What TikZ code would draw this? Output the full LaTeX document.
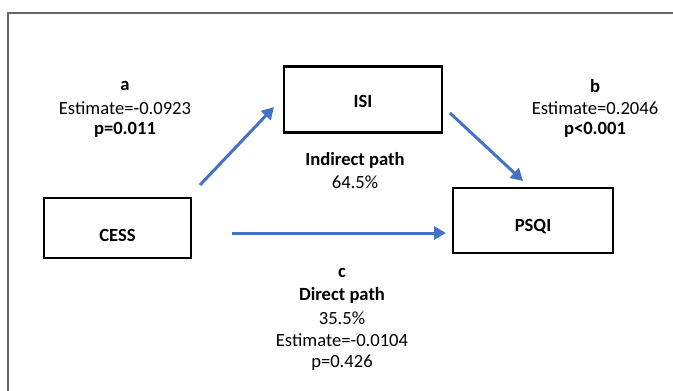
\documentclass[tikz,border=0pt]{standalone}
\usepackage{fontspec}
\setmainfont{Carlito}
\usetikzlibrary{arrows.meta}
\definecolor{arrowblue}{HTML}{4472C4}
\begin{document}
\begin{tikzpicture}[x=1pt,y=-1pt,
  boxnode/.style={draw=black,line width=2.4pt,inner sep=0pt},
  lbl/.style={font=\fontsize{18.6}{21}\selectfont,inner sep=0pt,anchor=center},
  blbl/.style={font=\fontsize{18.6}{21}\selectfont\bfseries,inner sep=0pt,anchor=center},
  arr/.style={draw=arrowblue,line width=3pt,-{Triangle[length=12pt,width=13pt]}}]
\useasboundingbox (0,0) rectangle (673,391);
\fill[white] (0,0) rectangle (673,391);
\draw[gray!80!black,line width=1.3pt] (8,391) -- (8,13) -- (673,13);
% boxes
\node[boxnode,minimum width=158pt,minimum height=66pt] (isi) at (363,99.5) {};
\node[blbl] (isit) at (363,101) {ISI};
\node[boxnode,minimum width=147pt,minimum height=60pt] (cess) at (117.5,228) {};
\node[blbl] (cesst) at (117.5,235) {CESS};
\node[boxnode,minimum width=160pt,minimum height=65pt] (psqi) at (533,220.5) {};
\node[blbl] (psqit) at (533,227) {PSQI};
% arrow endpoints
\coordinate (a1) at (200,185);
\coordinate (a2) at (274,107);
\coordinate (b1) at (450,113);
\coordinate (b2) at (523,181);
\coordinate (c1) at (232,233);
\coordinate (c2) at (446,233);
\draw[arr] (a1) -- (a2);
\draw[arr] (b1) -- (b2);
\draw[arr] (c1) -- (c2);
% labels a
\node[blbl] (la) at (125,86) {a};
\node[lbl] (lae) at (125,108) {Estimate=-0.0923};
\node[blbl] (lap) at (125,130) {p=0.011};
% labels b
\node[blbl] (lb) at (595,86) {b};
\node[lbl] (lbe) at (595,108) {Estimate=0.2046};
\node[blbl] (lbp) at (595,130) {p<0.001};
% indirect
\node[blbl] (ind) at (355,160) {Indirect path};
\node[lbl] (indp) at (355,182) {64.5\%};
% c
\node[blbl] (lc) at (342,273) {c};
\node[blbl] (dir) at (342,295) {Direct path};
\node[lbl] (dirp) at (342,318) {35.5\%};
\node[lbl] (lce) at (342,340) {Estimate=-0.0104};
\node[lbl] (lcp) at (342,363) {p=0.426};
\end{tikzpicture}
\end{document}
